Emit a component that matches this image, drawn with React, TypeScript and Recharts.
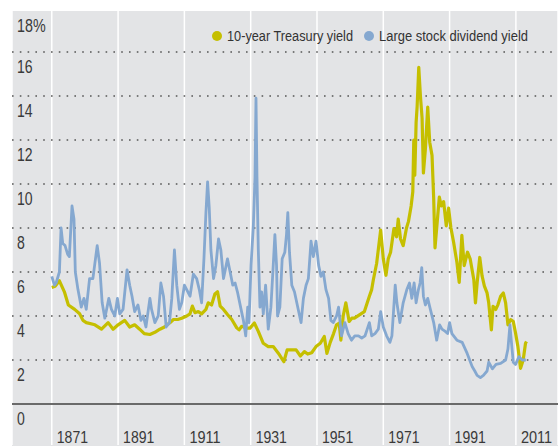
import { LineChart, Line, XAxis, YAxis, CartesianGrid, ReferenceLine, Legend } from "recharts";

const FONT = '"Liberation Sans", Arial, sans-serif';

const yearTicks = [1871, 1891, 1911, 1931, 1951, 1971, 1991, 2011];
const yieldTicks = [0, 2, 4, 6, 8, 10, 12, 14, 16, 18];
const gridValues = [2, 4, 6, 8, 10, 12, 14, 16];

// Large stock dividend yield
const divYears = [
  1871.0, 1871.8, 1872.3, 1873.3, 1873.8, 1874.3, 1875.0, 1875.8, 1876.3, 1877.1,
  1877.7, 1878.1, 1878.9, 1879.9, 1880.7, 1881.4, 1882.4, 1883.4, 1884.7, 1885.4,
  1886.2, 1887.0, 1888.2, 1889.0, 1890.0, 1890.8, 1891.5, 1892.5, 1893.7, 1894.5,
  1895.2, 1896.0, 1897.0, 1897.9, 1898.6, 1899.4, 1900.6, 1901.1, 1902.1, 1903.1,
  1903.9, 1904.7, 1905.5, 1906.5, 1907.2, 1908.0, 1908.7, 1909.5, 1910.2, 1911.0,
  1911.7, 1912.7, 1913.7, 1914.7, 1915.5, 1916.2, 1916.9, 1917.5, 1918.0, 1918.5,
  1919.0, 1919.8, 1920.5, 1921.3, 1922.0, 1922.8, 1923.6, 1924.0, 1924.8, 1925.6,
  1926.3, 1927.0, 1928.1, 1928.8, 1929.5, 1930.1, 1930.5, 1931.1, 1931.8, 1932.3,
  1932.6, 1932.9, 1933.3, 1933.8, 1934.3, 1934.8, 1935.5, 1936.3, 1937.1, 1937.8,
  1938.3, 1938.8, 1939.1, 1939.8, 1940.5, 1941.3, 1941.8, 1942.2, 1942.7, 1943.4,
  1944.2, 1945.2, 1946.2, 1946.9, 1947.7, 1948.4, 1949.2, 1949.9, 1950.7, 1951.5,
  1952.2, 1952.9, 1953.7, 1954.5, 1955.2, 1955.9, 1956.9, 1957.5, 1958.4, 1959.4,
  1960.4, 1961.4, 1962.4, 1963.5, 1964.5, 1965.5, 1966.8, 1967.5, 1968.5, 1969.5,
  1970.2, 1971.0, 1972.0, 1973.0, 1973.6, 1974.6, 1975.1, 1976.0, 1977.0, 1978.1,
  1978.9, 1979.6, 1980.3, 1980.9, 1981.6, 1982.1, 1982.6, 1983.1, 1983.7, 1984.4,
  1985.2, 1986.2, 1987.1, 1988.0, 1988.7, 1989.7, 1990.4, 1991.0, 1991.7, 1993.2,
  1994.8, 1996.3, 1997.8, 1998.6, 1999.3, 2000.3, 2001.2, 2002.3, 2002.8, 2003.9,
  2005.0, 2006.4, 2007.9, 2008.6, 2009.2, 2009.6, 2010.2, 2010.9, 2011.9, 2012.9,
  2014.0,
];
const divYield = [
  5.8, 5.4, 5.5, 6.0, 8.0, 7.3, 7.2, 6.8, 6.7, 9.0,
  8.4, 6.0, 5.2, 4.4, 4.8, 4.3, 5.7, 5.7, 7.2, 6.4,
  4.6, 3.9, 4.8, 4.3, 4.0, 4.8, 4.1, 4.3, 6.1, 5.4,
  4.9, 4.2, 4.5, 3.8, 4.0, 3.5, 4.8, 4.3, 3.7, 4.0,
  5.5, 4.9, 3.5, 3.7, 4.8, 7.0, 5.4, 4.3, 4.6, 5.4,
  5.2, 4.9, 5.9, 5.7, 5.2, 4.6, 6.6, 8.7, 10.1, 8.9,
  7.0, 5.7, 6.3, 7.5, 7.0, 5.7, 6.3, 6.6, 6.0, 5.4,
  5.5, 5.1, 4.3, 3.8, 3.1, 4.4, 3.7, 6.3, 8.1, 10.3,
  13.9, 10.3, 7.0, 4.4, 5.1, 4.1, 5.4, 3.4, 4.4, 6.3,
  7.7, 6.3, 4.0, 4.4, 6.6, 6.9, 7.7, 8.7, 6.9, 5.4,
  5.1, 4.4, 3.7, 4.8, 5.4, 5.7, 7.4, 6.7, 7.4, 6.3,
  5.8, 6.0, 5.2, 4.8, 3.8, 3.7, 4.0, 4.4, 3.1, 3.7,
  3.2, 2.9, 3.1, 3.1, 3.0, 3.1, 3.7, 3.1, 3.2, 3.4,
  4.2, 3.5, 3.1, 2.8, 3.1, 5.4, 4.6, 3.7, 4.6, 5.2,
  5.5, 4.8, 5.5, 4.6, 5.2, 5.5, 6.2, 4.9, 4.5, 4.8,
  4.3, 3.7, 2.9, 3.6, 3.4, 3.3, 3.2, 3.7, 3.2, 2.9,
  2.8, 2.3, 1.7, 1.5, 1.3, 1.2, 1.3, 1.5, 1.9, 1.6,
  1.8, 1.85, 2.0, 2.5, 3.6, 2.9, 1.9, 1.8, 2.15, 2.0,
  2.0,
];

// 10-year Treasury yield
const tsyYears = [
  1871.0, 1872.0, 1873.3, 1874.8, 1876.0, 1877.9, 1879.4, 1880.4, 1881.4, 1884.0,
  1886.0, 1888.0, 1889.5, 1891.0, 1893.0, 1894.5, 1896.0, 1897.5, 1898.9, 1900.6,
  1902.1, 1903.6, 1905.0, 1906.7, 1907.7, 1909.0, 1910.2, 1911.7, 1912.7, 1913.4,
  1914.2, 1915.2, 1916.2, 1917.5, 1918.2, 1919.2, 1920.2, 1921.0, 1921.8, 1922.8,
  1924.0, 1925.3, 1926.8, 1927.5, 1928.3, 1929.8, 1930.8, 1932.1, 1933.3, 1934.8,
  1936.3, 1937.8, 1939.4, 1941.0, 1942.0, 1943.2, 1944.7, 1946.0, 1947.2, 1948.2,
  1949.4, 1950.7, 1952.0, 1953.2, 1954.0, 1955.0, 1956.0, 1956.9, 1957.7, 1958.2,
  1958.9, 1959.7, 1960.7, 1961.5, 1962.3, 1963.8, 1965.3, 1966.8, 1967.5, 1968.0,
  1969.0, 1970.2, 1971.0, 1971.8, 1972.5, 1973.2, 1974.2, 1975.0, 1975.5, 1976.2,
  1977.0, 1978.0, 1978.6, 1979.4, 1979.9, 1980.2, 1980.5, 1980.9, 1981.2, 1981.7,
  1982.2, 1982.7, 1983.1, 1983.7, 1984.4, 1985.0, 1985.7, 1986.2, 1986.6, 1987.9,
  1988.5, 1989.2, 1990.0, 1990.7, 1991.4, 1992.2, 1993.2, 1993.9, 1994.7, 1995.4,
  1996.4, 1997.2, 1998.3, 1998.8, 1999.3, 2000.1, 2000.8, 2001.5, 2002.3, 2002.8,
  2003.6, 2004.1, 2004.9, 2005.6, 2006.4, 2007.2, 2007.9, 2008.6, 2009.4, 2010.2,
  2010.9, 2011.6, 2012.4, 2013.2, 2013.9, 2014.2,
];
const tsyYield = [
  5.3, 5.35, 5.6, 5.1, 4.5, 4.3, 4.1, 3.8, 3.7, 3.6,
  3.4, 3.7, 3.4, 3.6, 3.8, 3.5, 3.6, 3.4, 3.2, 3.16,
  3.26, 3.4, 3.5, 3.7, 3.84, 3.84, 3.9, 4.0, 4.1, 4.45,
  4.15, 4.2, 4.1, 4.3, 4.6, 4.5, 5.0, 5.1, 4.45, 4.3,
  4.07, 3.84, 3.46, 3.37, 3.53, 3.45, 3.45, 3.68, 3.3, 2.76,
  2.61, 2.61, 2.3, 1.92, 2.46, 2.46, 2.46, 2.18, 2.38, 2.27,
  2.33, 2.61, 2.76, 3.07, 2.3, 2.8, 3.2, 3.6, 3.67, 2.9,
  4.0, 4.6, 3.75, 3.9, 3.9, 4.05, 4.2, 4.9, 5.2, 5.65,
  6.4, 7.9, 6.6, 5.85, 6.6, 6.9, 7.97, 7.6, 8.4, 7.5,
  7.2, 8.0, 8.3, 9.0, 9.65, 12.0, 10.4, 12.8, 13.5, 15.3,
  14.0, 13.0, 10.5, 11.6, 13.5, 11.9, 11.3, 9.35, 7.1, 9.4,
  9.0, 9.2, 8.1, 8.9, 8.0, 7.36, 6.44, 5.53, 7.67, 6.29,
  6.9, 6.6, 5.66, 4.6, 5.5, 6.66, 5.82, 5.36, 5.05, 4.6,
  3.37, 4.44, 4.29, 4.52, 4.9, 5.05, 4.6, 3.6, 3.83, 3.76,
  3.22, 2.61, 1.62, 2.0, 2.76, 2.84,
];

const divData = divYears.map((year, i) => ({ year, value: divYield[i] }));
const tsyData = tsyYears.map((year, i) => ({ year, value: tsyYield[i] }));

// the original type is a condensed face; squeeze Liberation Sans to match
const DIGIT_W = 7.8;
const PCT_W = 13;
const labelWidth = (s: string) =>
  s.split("").reduce((w, c) => w + (c === "%" ? PCT_W : DIGIT_W), 0);

function YTick(props: any) {
  const { y, payload } = props;
  const top = payload.value === 18;
  const label = top ? "18%" : String(payload.value);
  return (
    <text
      x={17}
      y={y + (top ? 23.5 : 21)}
      fontSize={17.5}
      fill="#3a3a3a"
      fontFamily={FONT}
      textLength={labelWidth(label)}
      lengthAdjust="spacingAndGlyphs"
    >
      {label}
    </text>
  );
}

function XTick(props: any) {
  const { x, payload } = props;
  const label = String(payload.value);
  return (
    <text
      x={x + 5}
      y={443}
      fontSize={17}
      fill="#3a3a3a"
      fontFamily={FONT}
      textLength={labelWidth(label)}
      lengthAdjust="spacingAndGlyphs"
    >
      {label}
    </text>
  );
}

const legendTextW = [126, 149];

function LegendContent({ payload }: any) {
  const items = payload || [];
  let cursor = 0;
  return (
    <svg width={330} height={20} style={{ display: "block", overflow: "visible" }}>
      {items.map((p: any, i: number) => {
        const x0 = cursor;
        const w = legendTextW[i] ?? 120;
        cursor += 10 + 5 + w + 11;
        return (
          <g key={p.value}>
            <circle cx={x0 + 5} cy={10} r={5} fill={p.color} />
            <text
              x={x0 + 15}
              y={15}
              fontSize={15.2}
              fill="#333"
              fontFamily={FONT}
              textLength={w}
              lengthAdjust="spacingAndGlyphs"
            >
              {p.value}
            </text>
          </g>
        );
      })}
    </svg>
  );
}

export default function App() {
  return (
    <div style={{ position: "absolute", left: 0, top: 0, width: 558, height: 446, background: "#fff", overflow: "hidden" }}>
      <div style={{ position: "absolute", left: 12, top: 11, right: 0, bottom: 0, background: "#e3e4e6" }} />
      <div style={{ position: "absolute", left: 0, top: 0 }}>
        <LineChart width={558} height={446} margin={{ top: 8, right: 0, bottom: 0, left: 11 }}>
          <CartesianGrid horizontal={false} stroke="#ffffff" strokeWidth={1.5} />
          <CartesianGrid
            vertical={false}
            horizontalValues={gridValues}
            stroke="#555"
            strokeWidth={1.6}
            strokeDasharray="1.6 6.2"
          />
          <XAxis
            type="number"
            dataKey="year"
            domain={[1859, 2023.7]}
            ticks={yearTicks}
            interval={0}
            height={1}
            axisLine={false}
            tickLine={false}
            tick={<XTick />}
            allowDataOverflow
          />
          <YAxis
            type="number"
            domain={[-1.864, 18]}
            ticks={yieldTicks}
            interval={0}
            width={1}
            axisLine={false}
            tickLine={false}
            tick={<YTick />}
            allowDataOverflow
          />
          <ReferenceLine y={0} stroke="#6a6a6a" strokeWidth={2} />
          <Legend
            verticalAlign="middle"
            layout="horizontal"
            content={<LegendContent />}
            wrapperStyle={{ top: 26, left: 212, width: "auto" }}
          />
          <Line
            data={tsyData}
            dataKey="value"
            name="10-year Treasury yield"
            type="linear"
            stroke="#c5bf00"
            strokeWidth={3.2}
            dot={false}
            activeDot={false}
            strokeLinejoin="round"
            isAnimationActive={false}
          />
          <Line
            data={divData}
            dataKey="value"
            name="Large stock dividend yield"
            type="linear"
            stroke="#85a8d0"
            strokeWidth={2.8}
            dot={false}
            activeDot={false}
            strokeLinejoin="round"
            isAnimationActive={false}
          />
        </LineChart>
      </div>
    </div>
  );
}
